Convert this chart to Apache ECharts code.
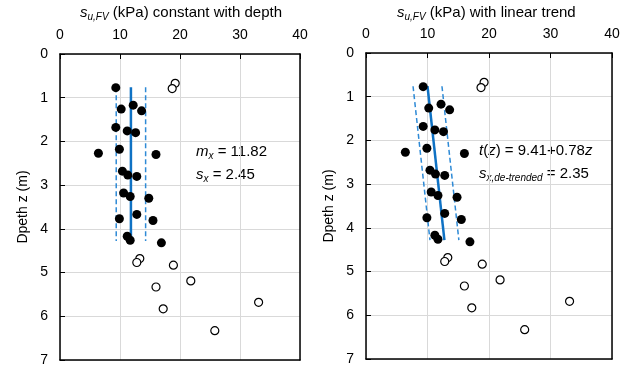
<!DOCTYPE html>
<html>
<head>
<meta charset="utf-8">
<script src="https://cdn.jsdelivr.net/npm/echarts@6/dist/echarts.min.js"></script>
<style>
  html, body { margin: 0; padding: 0; background: #fff; }
  #chart { width: 630px; height: 367px; }
</style>
</head>
<body>
<div id="chart"></div>
<script>
// data (su in kPa, depth in m)
const suFilled = [9.3, 12.2, 10.2, 13.6, 9.3, 11.2, 12.6, 9.9, 6.4, 16.0, 10.4,
                  11.3, 12.8, 10.6, 11.7, 14.8, 9.9, 12.8, 15.5, 11.2, 11.7, 16.9];
const depthFilled = [0.77, 1.17, 1.26, 1.30, 1.68, 1.76, 1.80, 2.18, 2.27, 2.30, 2.68,
                     2.77, 2.80, 3.18, 3.26, 3.30, 3.77, 3.67, 3.81, 4.17, 4.26, 4.32];
const suOpen = [19.2, 18.7, 13.3, 12.8, 18.9, 21.8, 16.0, 33.1, 17.2, 25.8];
const depthOpen = [0.67, 0.79, 4.68, 4.77, 4.83, 5.19, 5.33, 5.68, 5.83, 6.33];

// constant mean +/- sx
const meanLine = [[11.82, 0.76], [11.82, 4.28]];
const meanLow = [[9.37, 0.76], [9.37, 4.28]];
const meanHigh = [[14.27, 0.76], [14.27, 4.28]];
// linear trend +/- sx,de-trended
const trendLine = [[10.0, 0.76], [12.75, 4.28]];
const trendLow = [[7.65, 0.76], [10.4, 4.28]];
const trendHigh = [[12.35, 0.76], [15.1, 4.28]];

const xTicks = [0, 10, 20, 30, 40];
const yTicks = [0, 1, 2, 3, 4, 5, 6, 7];

const font = 'Liberation Sans, Arial, sans-serif';
const chart = echarts.init(document.getElementById('chart'));

function pairs(xs, ys) {
  return xs.map((x, i) => [x, ys[i]]);
}

function xAxis(gi) {
  return {
    gridIndex: gi, type: 'value', position: 'top',
    min: xTicks[0], max: xTicks[xTicks.length - 1], interval: 10,
    axisLine: { show: true, lineStyle: { color: '#000', width: 1.5 } },
    axisTick: { show: true, inside: true, length: 5, lineStyle: { color: '#000' } },
    axisLabel: { color: '#000', fontSize: 14, fontFamily: font, margin: 12 },
    splitLine: { show: true, lineStyle: { color: '#d9d9d9', width: 1 } }
  };
}

function yAxis(gi) {
  return {
    gridIndex: gi, type: 'value', inverse: true,
    min: yTicks[0], max: yTicks[yTicks.length - 1], interval: 1,
    name: 'Dpeth z (m)', nameLocation: 'middle', nameGap: 30, nameRotate: 90,
    nameTextStyle: { color: '#000', fontSize: 14, fontFamily: font },
    axisLine: { show: true, lineStyle: { color: '#000', width: 1.5 } },
    axisTick: { show: true, inside: true, length: 5, lineStyle: { color: '#000' } },
    axisLabel: { color: '#000', fontSize: 14, fontFamily: font, margin: 12 },
    splitLine: { show: true, lineStyle: { color: '#d9d9d9', width: 1 } }
  };
}

// plain axes on the opposite sides, only to close the frame
function frameX(gi) {
  return {
    gridIndex: gi, type: 'value', position: 'bottom', min: 0, max: 40,
    axisLine: { show: true, onZero: false, lineStyle: { color: '#000', width: 1.5 } },
    axisTick: { show: false }, axisLabel: { show: false }, splitLine: { show: false }
  };
}

function frameY(gi) {
  return {
    gridIndex: gi, type: 'value', position: 'right', min: 0, max: 7, inverse: true,
    axisLine: { show: true, onZero: false, lineStyle: { color: '#000', width: 1.5 } },
    axisTick: { show: false }, axisLabel: { show: false }, splitLine: { show: false }
  };
}

function filled(gi) {
  return {
    type: 'scatter', xAxisIndex: gi, yAxisIndex: gi, symbol: 'circle', symbolSize: 9,
    itemStyle: { color: '#000', opacity: 1 }, data: pairs(suFilled, depthFilled), z: 3
  };
}

function open(gi) {
  return {
    type: 'scatter', xAxisIndex: gi, yAxisIndex: gi, symbol: 'circle', symbolSize: 8,
    itemStyle: { color: '#fff', borderColor: '#000', borderWidth: 1.2, opacity: 1 },
    data: pairs(suOpen, depthOpen), z: 3
  };
}

function line(gi, data, dashed) {
  return {
    type: 'line', xAxisIndex: gi, yAxisIndex: gi, data: data, symbol: 'none',
    lineStyle: dashed
      ? { color: '#2e8ad6', width: 1.5, type: [5, 3] }
      : { color: '#0f72c4', width: 2.5 },
    z: 2
  };
}

const subRich = {
  s: { fontSize: 15, fontStyle: 'italic', fontFamily: font, color: '#000' },
  sub: { fontSize: 10, fontStyle: 'italic', fontFamily: font, color: '#000', padding: [9, 0, 0, 0] },
  n: { fontSize: 15, fontFamily: font, color: '#000' }
};

function txt(left, top, text) {
  return {
    type: 'text', left: left, top: top,
    style: { text: text, rich: subRich }
  };
}

chart.setOption({
  animation: false,
  backgroundColor: '#fff',
  grid: [
    { left: 60, top: 54, width: 240, height: 308 },
    { left: 366, top: 53, width: 246, height: 306 }
  ],
  xAxis: [xAxis(0), xAxis(1), frameX(0), frameX(1)],
  yAxis: [yAxis(0), yAxis(1), frameY(0), frameY(1)],
  series: [
    line(0, meanLine, false), line(0, meanLow, true), line(0, meanHigh, true),
    filled(0), open(0),
    line(1, trendLine, false), line(1, trendLow, true), line(1, trendHigh, true),
    filled(1), open(1)
  ],
  graphic: [
    txt(80, 5, '{s|s}{sub|u,FV}{n| (kPa) constant with depth}'),
    txt(397, 5, '{s|s}{sub|u,FV}{n| (kPa) with linear trend}'),
    txt(196, 144, '{s|m}{sub|x}{n| = 11.82}'),
    txt(196, 167, '{s|s}{sub|x}{n| = 2.45}'),
    txt(479, 143, '{s|t}{n|(}{s|z}{n|) = 9.41+0.78}{s|z}'),
    txt(479, 166, '{s|s}{sub|x,de-trended}{n| = 2.35}')
  ]
});
</script>
</body>
</html>
